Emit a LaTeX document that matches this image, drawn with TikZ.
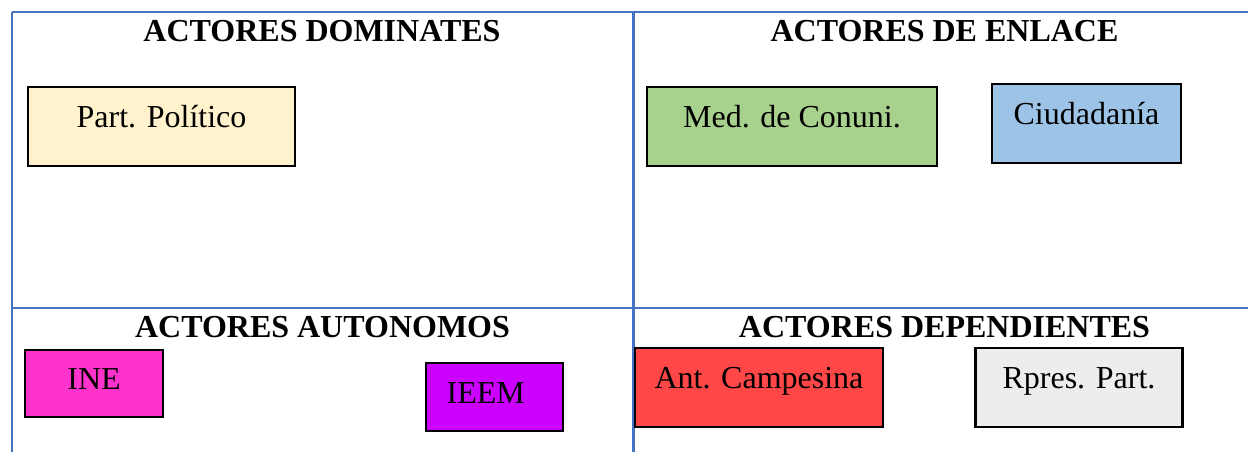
\documentclass[tikz,border=0pt]{standalone}
\usepackage{fontspec}
\setmainfont{Liberation Serif}
\usepackage{xcolor}
\definecolor{gridblue}{HTML}{4472C4}
\definecolor{cream}{HTML}{FFF2CC}
\definecolor{leafgreen}{HTML}{A9D18E}
\definecolor{skyblue}{HTML}{9DC3E6}
\definecolor{pinkine}{HTML}{FF33CC}
\definecolor{violetieem}{HTML}{CC00FF}
\definecolor{redant}{HTML}{FF4747}
\definecolor{lightgray}{HTML}{EDEDED}

\begin{document}
\begin{tikzpicture}[
    x=0.75pt, y=-0.75pt,
    font=\fontsize{24}{29}\selectfont,
    grid/.style={draw=gridblue, line width=1.7pt},
    heading/.style={font=\fontsize{24}{29}\selectfont\bfseries, anchor=base, inner sep=0pt},
    actor/.style={rectangle, draw=black, line width=1.8pt, align=center, inner sep=0pt,
                  text height=0.75em, text depth=0.25em},
    high/.style={text depth=0.65em},
    low/.style={text height=0.95em, text depth=0pt}
  ]
    \useasboundingbox (0,0) rectangle (1248,452);

    % table lines
    \draw[grid] (12,12) -- (1248,12);
    \draw[grid] (12,308) -- (1248,308);
    \draw[grid] (12,12) -- (12,452);
    \draw[grid] (633.5,12) -- (633.5,452);

    % headings
    \node[heading] (dom) at (322,42)    {ACTORES DOMINATES};
    \node[heading] (enl) at (944.5,42)  {ACTORES DE ENLACE};
    \node[heading] (aut) at (322.5,337) {ACTORES AUTONOMOS};
    \node[heading] (dep) at (944.5,337) {ACTORES DEPENDIENTES};

    % actors
    \node[actor, high, fill=cream, minimum width=200pt, minimum height=59.25pt]
      (partido) at (161.5,126.5) {Part. Político};
    \node[actor, high, fill=leafgreen, minimum width=217.5pt, minimum height=59.25pt]
      (medios) at (792,126.5) {Med. de Conuni.};
    \node[actor, high, fill=skyblue, minimum width=141.75pt, minimum height=59.25pt]
      (ciudad) at (1086.5,123.5) {Ciudadanía};
    \node[actor, low, fill=pinkine, minimum width=103.5pt, minimum height=50.25pt]
      (ine) at (94,383.5) {INE};
    \node[actor, low, fill=violetieem, minimum width=102.75pt, minimum height=51pt]
      (ieem) at (494.5,397) {IEEM\kern13pt};
    \node[actor, high, fill=redant, minimum width=186.4pt, minimum height=59.25pt]
      (campesina) at (759,387.5) {Ant. Campesina};
    \node[actor, high, fill=lightgray, minimum width=155.25pt, minimum height=59.25pt]
      (rpres) at (1079,387.5) {Rpres. Part.};
\end{tikzpicture}
\end{document}
